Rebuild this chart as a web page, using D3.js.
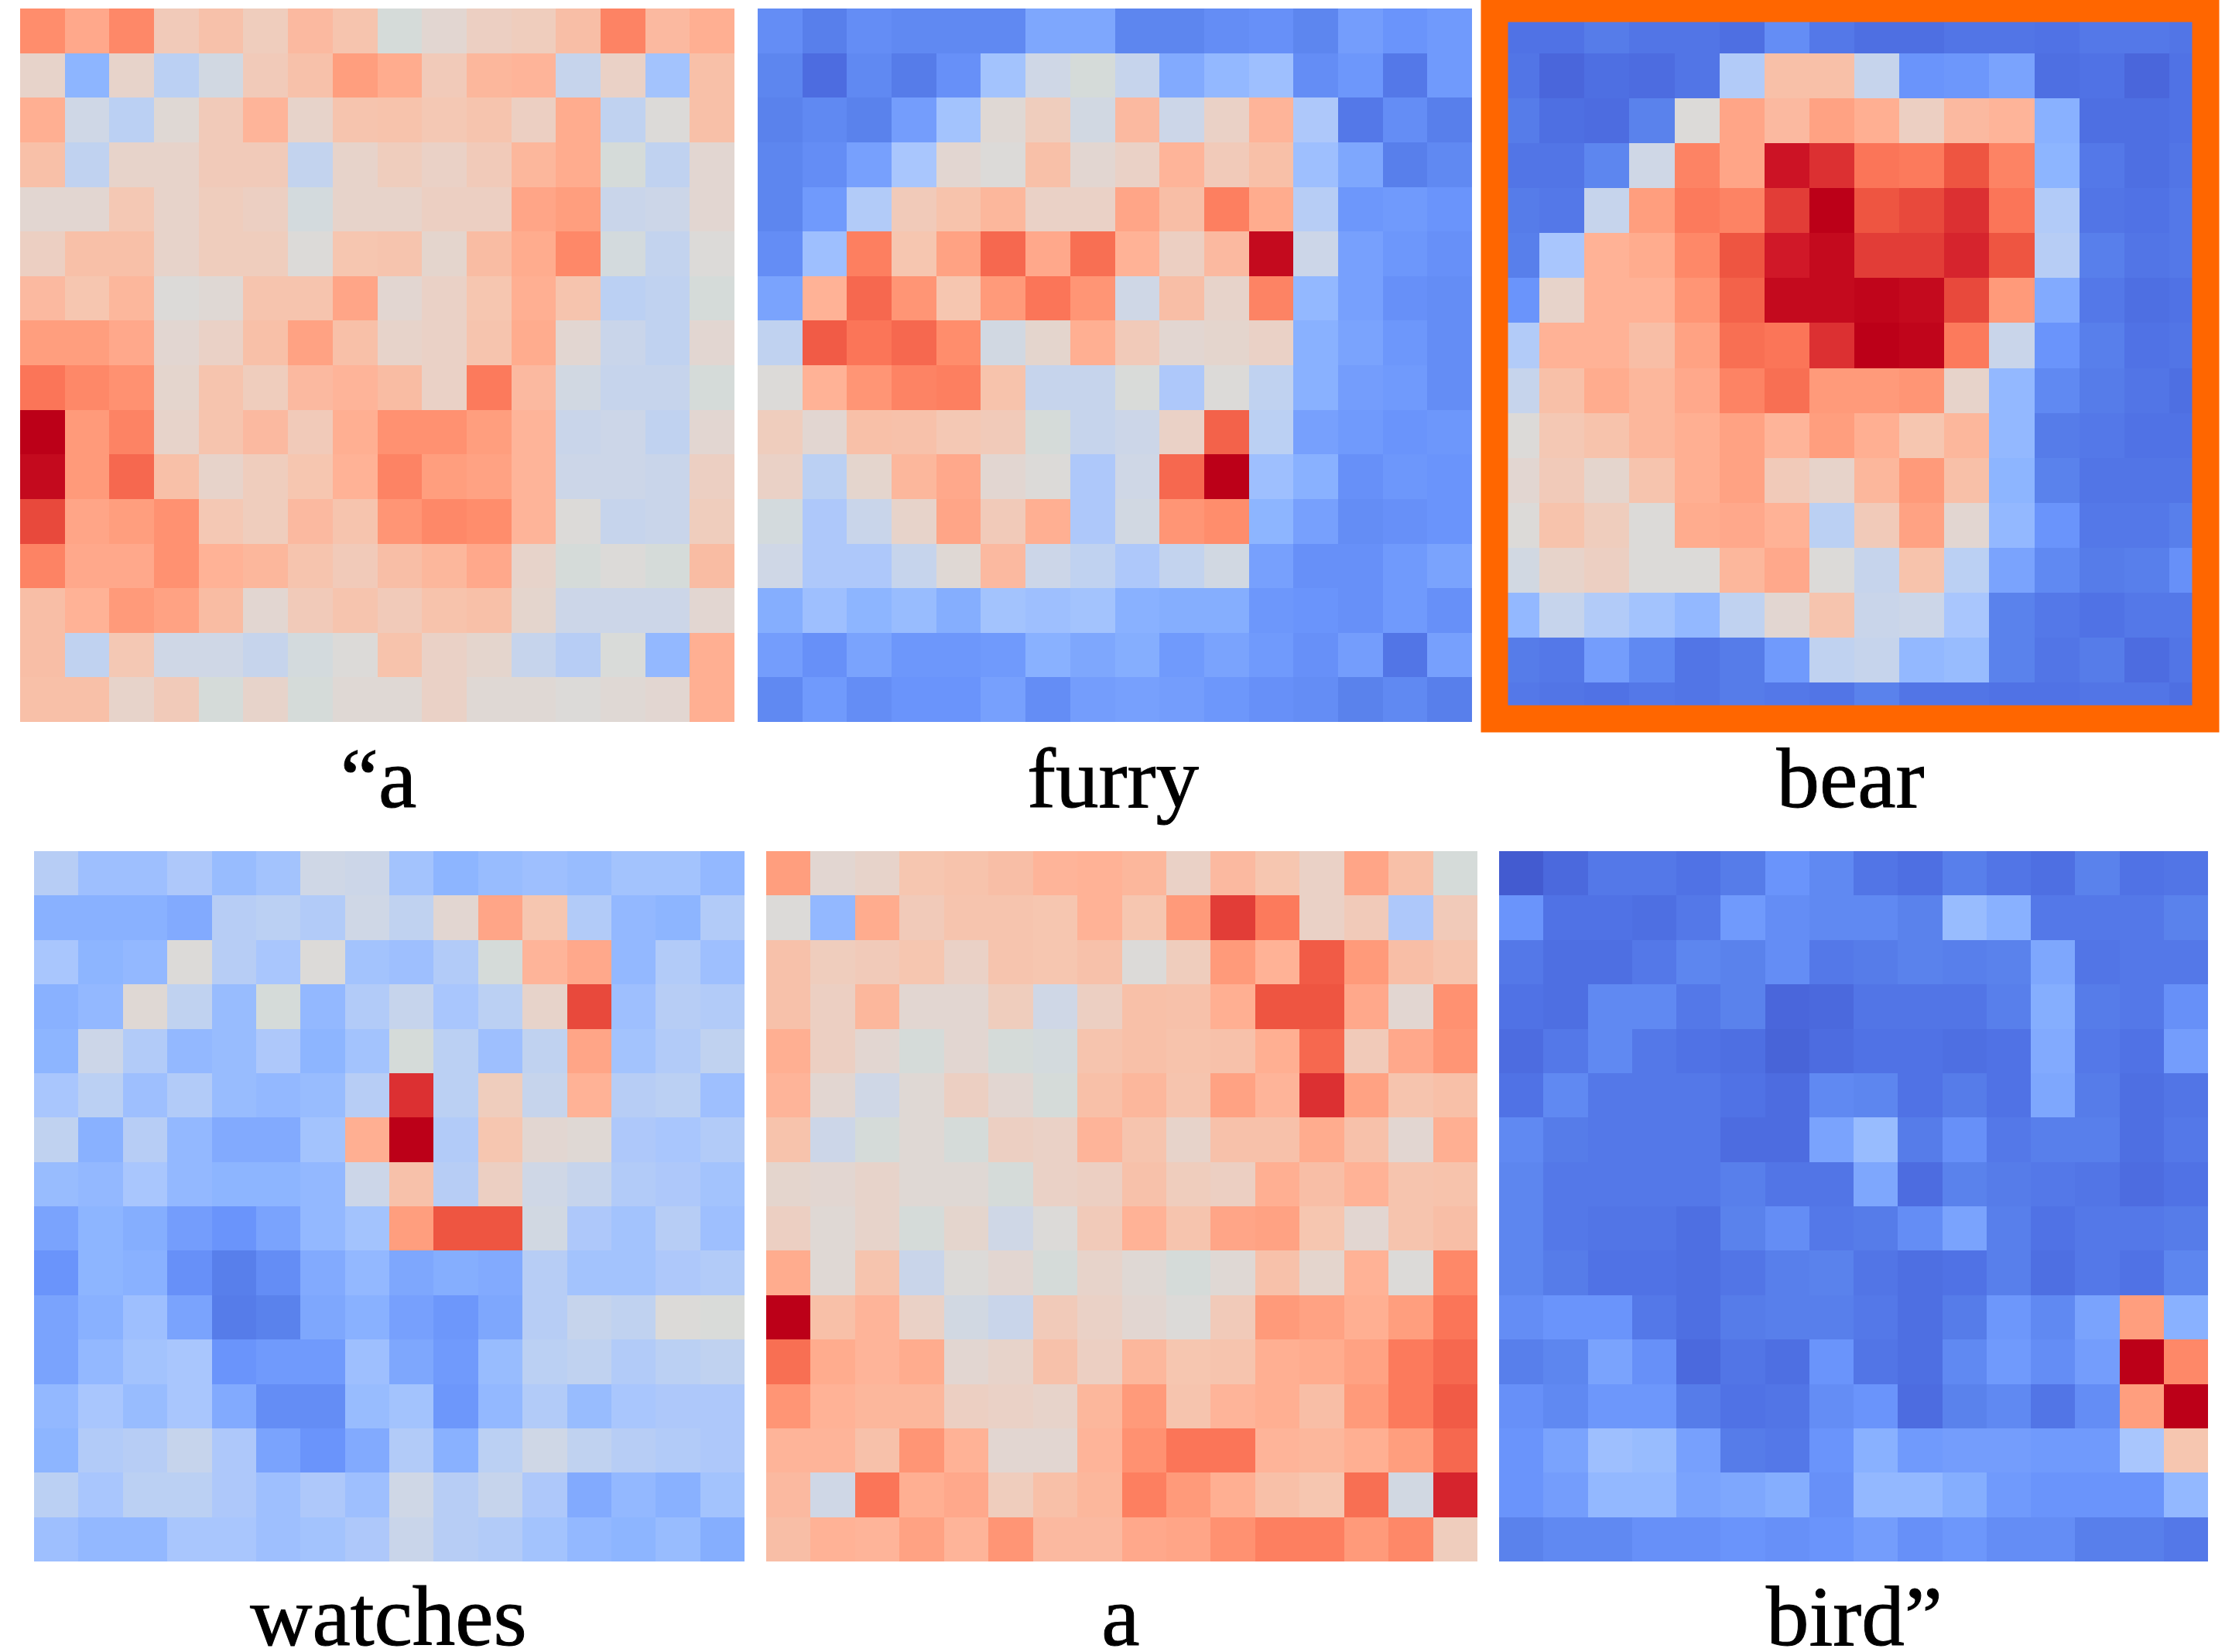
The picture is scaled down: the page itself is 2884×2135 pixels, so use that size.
<!DOCTYPE html>
<html lang="en">

<head>
    <meta charset="UTF-8">
    <title>Token attention maps</title>
    <script src="https://d3js.org/d3.v7.min.js"></script>
    <style>
        html, body {
            margin: 0;
            background: #fff;
        }

        svg {
            display: block;
        }

        .label {
            font-family: "Liberation Serif", serif;
            font-size: 111px;
            fill: #000;
            stroke: #000;
            stroke-width: 1px;
            text-anchor: middle;
        }
    </style>
</head>

<body>
    <svg id="chart"></svg>

    <script>
        // word under each map
        const tokens = ['\u201ca', 'furry', 'bear', 'watches', 'a', 'bird\u201d'];

        // attention, 0 = darkest blue, 100 = deepest red
        const mapA1 = [
            [80, 73, 81, 58, 63, 57, 67, 61, 48, 52, 56, 57, 65, 82, 67, 71],
            [54, 30, 54, 39, 46, 58, 63, 76, 72, 58, 68, 69, 42, 55, 34, 64],
            [71, 45, 39, 51, 58, 69, 54, 61, 62, 59, 61, 56, 72, 40, 50, 64],
            [64, 40, 54, 54, 58, 58, 41, 54, 57, 55, 58, 68, 72, 48, 40, 52],
            [52, 52, 59, 54, 57, 56, 47, 54, 54, 56, 56, 74, 76, 43, 44, 52],
            [56, 64, 64, 54, 57, 57, 50, 60, 61, 53, 66, 72, 81, 47, 41, 50],
            [67, 60, 68, 50, 51, 61, 61, 74, 52, 55, 60, 71, 61, 39, 40, 48],
            [76, 76, 73, 52, 55, 64, 75, 64, 54, 55, 61, 72, 52, 43, 40, 52],
            [85, 81, 79, 53, 61, 57, 67, 69, 66, 55, 84, 67, 46, 42, 42, 48],
            [100, 77, 82, 54, 61, 67, 58, 71, 79, 79, 76, 69, 43, 44, 40, 52],
            [98, 77, 87, 64, 54, 57, 60, 70, 82, 76, 75, 69, 44, 44, 43, 56],
            [91, 74, 76, 79, 59, 57, 67, 61, 78, 81, 80, 69, 50, 42, 43, 57],
            [82, 73, 73, 79, 70, 68, 61, 58, 65, 68, 73, 54, 48, 50, 48, 66],
            [65, 70, 77, 75, 66, 52, 58, 61, 58, 62, 64, 53, 44, 44, 44, 52],
            [65, 40, 59, 45, 45, 42, 47, 50, 62, 55, 53, 42, 38, 49, 31, 71],
            [64, 64, 54, 58, 48, 54, 48, 51, 51, 55, 51, 51, 50, 51, 52, 71]
        ];

        const mapFurry = [
            [18, 14, 18, 17, 17, 17, 26, 26, 16, 16, 18, 19, 16, 23, 20, 22],
            [16, 8, 17, 13, 19, 34, 45, 48, 42, 27, 31, 33, 18, 21, 12, 22],
            [15, 17, 15, 23, 34, 51, 57, 46, 67, 44, 55, 69, 36, 12, 18, 14],
            [16, 18, 24, 35, 52, 50, 64, 52, 55, 69, 58, 64, 33, 26, 14, 17],
            [16, 22, 37, 58, 62, 68, 55, 55, 74, 65, 83, 72, 38, 21, 22, 20],
            [18, 33, 83, 60, 75, 87, 73, 86, 70, 56, 67, 98, 44, 24, 21, 19],
            [25, 70, 87, 78, 60, 77, 85, 78, 45, 65, 54, 82, 31, 24, 19, 18],
            [40, 89, 85, 87, 80, 46, 53, 71, 58, 52, 53, 55, 29, 25, 21, 18],
            [50, 70, 78, 82, 83, 62, 42, 42, 49, 36, 50, 40, 29, 23, 22, 18],
            [57, 52, 64, 63, 59, 58, 48, 42, 44, 55, 88, 39, 24, 22, 20, 21],
            [55, 39, 53, 68, 73, 52, 50, 36, 45, 87, 100, 33, 29, 19, 21, 20],
            [47, 36, 43, 54, 74, 58, 71, 36, 46, 78, 80, 30, 24, 18, 19, 20],
            [45, 36, 36, 42, 51, 67, 44, 40, 36, 41, 46, 24, 19, 19, 22, 25],
            [28, 33, 30, 32, 28, 34, 33, 34, 29, 28, 28, 21, 20, 19, 22, 19],
            [23, 19, 25, 21, 21, 22, 29, 26, 28, 22, 25, 22, 19, 23, 11, 24],
            [17, 22, 18, 20, 20, 24, 18, 23, 24, 23, 21, 19, 18, 15, 17, 14]
        ];

        const mapBear = [
            [10, 10, 13, 11, 11, 9, 18, 12, 9, 9, 11, 11, 10, 12, 12, 11],
            [11, 6, 9, 8, 11, 37, 64, 64, 42, 20, 21, 25, 9, 10, 6, 10],
            [13, 9, 8, 15, 50, 74, 67, 75, 71, 56, 67, 69, 29, 9, 9, 10],
            [11, 11, 16, 45, 82, 74, 96, 93, 85, 84, 90, 82, 30, 12, 9, 11],
            [13, 12, 42, 76, 84, 82, 92, 100, 90, 91, 93, 85, 37, 11, 10, 12],
            [14, 35, 70, 72, 81, 90, 95, 98, 92, 92, 94, 90, 38, 14, 11, 12],
            [20, 54, 70, 70, 78, 88, 98, 98, 99, 98, 91, 77, 27, 12, 9, 10],
            [37, 70, 70, 65, 75, 86, 85, 93, 100, 99, 84, 43, 20, 14, 10, 11],
            [42, 64, 72, 68, 73, 82, 86, 77, 77, 78, 54, 31, 17, 13, 11, 9],
            [50, 59, 62, 68, 71, 75, 69, 76, 71, 60, 68, 31, 13, 12, 10, 10],
            [52, 58, 53, 61, 71, 75, 58, 54, 68, 77, 64, 30, 15, 11, 11, 11],
            [50, 62, 57, 50, 72, 73, 70, 39, 58, 75, 52, 31, 20, 12, 12, 14],
            [46, 54, 56, 50, 50, 68, 73, 50, 42, 62, 39, 25, 17, 13, 14, 19],
            [31, 42, 37, 34, 31, 40, 52, 61, 43, 44, 35, 15, 12, 10, 12, 12],
            [13, 12, 23, 17, 11, 13, 22, 40, 42, 31, 32, 15, 11, 13, 8, 11],
            [12, 11, 10, 12, 11, 13, 12, 11, 15, 11, 11, 10, 10, 11, 11, 9]
        ];

        const mapWatches = [
            [38, 33, 33, 36, 32, 34, 45, 44, 34, 30, 32, 33, 32, 34, 34, 31],
            [29, 29, 29, 27, 38, 39, 37, 45, 40, 52, 74, 60, 37, 31, 30, 37],
            [35, 30, 31, 50, 38, 35, 50, 34, 33, 37, 48, 69, 73, 31, 37, 33],
            [29, 31, 51, 40, 32, 48, 31, 37, 42, 35, 39, 54, 91, 33, 38, 37],
            [30, 44, 37, 31, 32, 36, 30, 34, 48, 39, 33, 40, 74, 34, 37, 40],
            [35, 39, 33, 37, 32, 31, 32, 38, 93, 39, 57, 42, 70, 38, 39, 33],
            [40, 29, 38, 31, 27, 27, 34, 71, 100, 37, 60, 52, 51, 36, 35, 37],
            [32, 31, 35, 31, 30, 30, 31, 44, 63, 38, 56, 45, 42, 37, 36, 34],
            [25, 30, 28, 23, 20, 25, 31, 34, 76, 90, 90, 46, 36, 34, 38, 33],
            [20, 30, 29, 19, 14, 18, 27, 31, 26, 28, 27, 38, 34, 34, 36, 37],
            [25, 29, 33, 25, 13, 15, 26, 29, 24, 21, 26, 38, 42, 40, 50, 49],
            [25, 31, 34, 35, 20, 22, 22, 33, 26, 22, 32, 39, 40, 37, 39, 40],
            [31, 35, 32, 35, 27, 18, 18, 32, 34, 21, 31, 37, 32, 35, 36, 36],
            [30, 37, 38, 42, 36, 25, 20, 27, 37, 29, 39, 45, 40, 38, 37, 36],
            [39, 35, 39, 39, 36, 33, 36, 33, 45, 38, 42, 36, 27, 31, 29, 34],
            [33, 31, 31, 35, 35, 33, 34, 36, 43, 38, 37, 34, 31, 30, 32, 28]
        ];

        const mapA2 = [
            [76, 52, 54, 60, 62, 65, 69, 70, 68, 55, 67, 60, 55, 74, 64, 48],
            [50, 31, 72, 58, 61, 61, 60, 70, 60, 77, 92, 84, 55, 58, 36, 58],
            [63, 57, 58, 60, 55, 61, 60, 63, 50, 57, 77, 70, 89, 77, 65, 61],
            [63, 56, 68, 52, 52, 57, 45, 56, 64, 63, 71, 90, 90, 73, 52, 79],
            [71, 56, 52, 48, 52, 48, 47, 61, 64, 62, 63, 71, 87, 58, 73, 78],
            [69, 52, 45, 51, 56, 52, 48, 64, 68, 61, 75, 69, 93, 75, 61, 64],
            [62, 44, 48, 51, 48, 56, 55, 69, 61, 54, 63, 63, 72, 63, 52, 71],
            [53, 52, 54, 51, 51, 48, 55, 56, 63, 57, 56, 71, 65, 70, 61, 62],
            [56, 51, 54, 48, 53, 45, 50, 58, 70, 61, 74, 75, 60, 52, 61, 65],
            [72, 51, 61, 43, 50, 52, 48, 54, 51, 48, 51, 63, 53, 70, 50, 81],
            [100, 64, 69, 55, 46, 43, 58, 55, 52, 50, 58, 77, 75, 71, 76, 85],
            [86, 72, 69, 72, 52, 54, 63, 56, 68, 60, 61, 71, 72, 75, 84, 87],
            [78, 70, 68, 68, 56, 55, 54, 68, 77, 61, 69, 71, 65, 77, 84, 89],
            [69, 69, 63, 78, 70, 52, 52, 69, 79, 85, 85, 69, 68, 71, 76, 87],
            [67, 45, 85, 71, 73, 57, 64, 68, 83, 77, 71, 64, 60, 86, 46, 94],
            [65, 70, 69, 75, 69, 78, 67, 67, 73, 74, 79, 83, 83, 77, 81, 57]
        ];

        const mapBird = [
            [2, 7, 12, 12, 10, 13, 20, 17, 11, 9, 14, 11, 9, 15, 10, 11],
            [20, 10, 10, 9, 12, 22, 18, 17, 17, 15, 32, 29, 12, 12, 12, 15],
            [12, 9, 9, 12, 16, 15, 18, 12, 13, 15, 14, 15, 26, 11, 12, 12],
            [10, 9, 17, 17, 12, 15, 6, 7, 11, 11, 11, 14, 28, 13, 12, 19],
            [8, 12, 17, 12, 10, 9, 5, 8, 10, 10, 9, 10, 27, 12, 10, 23],
            [10, 17, 12, 12, 12, 10, 8, 17, 16, 10, 13, 10, 26, 13, 9, 11],
            [17, 13, 12, 12, 12, 8, 8, 25, 32, 13, 19, 12, 14, 14, 9, 12],
            [16, 12, 12, 12, 12, 14, 11, 11, 26, 8, 15, 13, 12, 11, 8, 10],
            [16, 12, 11, 11, 9, 15, 18, 12, 13, 18, 25, 14, 10, 12, 12, 13],
            [16, 13, 10, 10, 9, 11, 14, 15, 11, 9, 10, 14, 9, 12, 10, 16],
            [18, 20, 20, 12, 9, 13, 14, 14, 12, 9, 13, 21, 17, 25, 76, 29],
            [14, 16, 25, 19, 7, 11, 9, 20, 11, 9, 17, 22, 18, 23, 100, 81],
            [19, 17, 21, 21, 13, 10, 11, 18, 20, 8, 15, 17, 11, 18, 76, 100],
            [20, 25, 33, 32, 24, 13, 12, 20, 29, 22, 23, 23, 22, 22, 35, 60],
            [20, 23, 31, 31, 25, 26, 28, 19, 31, 31, 28, 22, 20, 20, 20, 31],
            [15, 17, 17, 19, 19, 20, 19, 20, 23, 19, 21, 18, 18, 14, 14, 12]
        ];

        const maps = [mapA1, mapFurry, mapBear, mapWatches, mapA2, mapBird];

        // blue through grey to red, same ramp for all six maps
        const rampStops = [0, 10, 15, 20, 25, 30, 35, 40, 45, 48, 50, 55, 60, 65, 70, 75, 80, 85, 90, 95, 100];
        const rampColors = ['#4055cb', '#5072e5', '#5a82ec', '#6a94fb', '#7aa3fd', '#8db5ff', '#a9c6fd',
            '#c0d2f0', '#cfd7e6', '#d5dbd9', '#dcdad8', '#ead1c6', '#f6c6b0', '#f8bea6', '#ffb296', '#ffa283',
            '#ff8d6c', '#fb7558', '#ee5541', '#d01828', '#bc0018'];

        const width = 2884;
        const height = 2135;

        const svg = d3.select('#chart')
            .attr('width', width)
            .attr('height', height);

        const color = d3.scaleLinear().domain(rampStops).range(rampColors);

        // left/top/right/bottom of each map, and where its word sits
        const frames = [
            { x0: 26, x1: 949, y0: 11, y1: 933, labelX: 489, labelY: 1043 },
            { x0: 979, x1: 1902, y0: 11, y1: 933, labelX: 1438, labelY: 1043 },
            { x0: 1931, x1: 2861, y0: 11, y1: 940, labelX: 2391, labelY: 1043 },
            { x0: 44, x1: 962, y0: 1100, y1: 2018, labelX: 502, labelY: 2126 },
            { x0: 990, x1: 1909, y0: 1100, y1: 2018, labelX: 1448, labelY: 2126 },
            { x0: 1937, x1: 2853, y0: 1100, y1: 2018, labelX: 2396, labelY: 2126 }
        ];

        const cellIndex = d3.range(16);

        maps.forEach((rows, i) => {
            const f = frames[i];
            const x = d3.scaleBand().domain(cellIndex).range([f.x0, f.x1]);
            const y = d3.scaleBand().domain(cellIndex).range([f.y0, f.y1]);

            const g = svg.append('g').attr('class', 'map');

            g.selectAll('g')
                .data(rows)
                .enter().append('g')
                .selectAll('rect')
                .data((row, r) => row.map((v, c) => ({ r, c, v })))
                .enter().append('rect')
                .attr('x', d => x(d.c))
                .attr('y', d => y(d.r))
                .attr('width', x.bandwidth())
                .attr('height', y.bandwidth())
                .attr('shape-rendering', 'crispEdges')
                .attr('fill', d => color(d.v));

            svg.append('text')
                .attr('class', 'label')
                .attr('x', f.labelX)
                .attr('y', f.labelY)
                .text(tokens[i]);
        });

        // orange highlight around the "bear" map, sits on top of its outer cells
        svg.append('rect')
            .attr('x', 1931)
            .attr('y', 11)
            .attr('width', 919)
            .attr('height', 918)
            .attr('fill', 'none')
            .attr('stroke', '#ff6600')
            .attr('stroke-width', 35);
    </script>
</body>

</html>
